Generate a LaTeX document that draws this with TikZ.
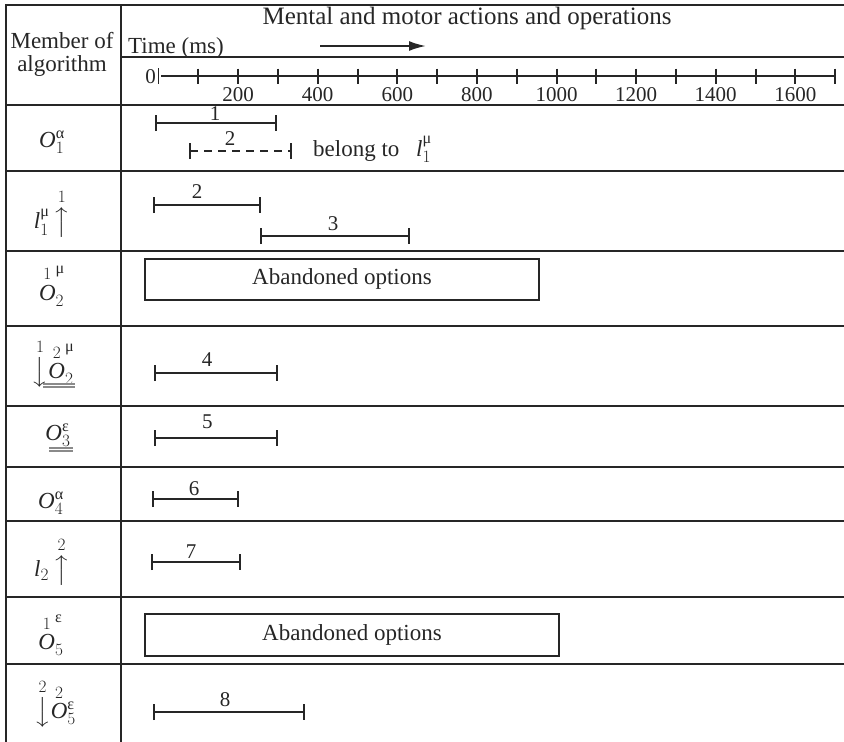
\documentclass[tikz,border=0pt]{standalone}
\usepackage{amsmath}
\usepackage{fontspec}
\setmainfont{Liberation Serif}
\usetikzlibrary{arrows.meta}
\definecolor{ink}{HTML}{262626}
\definecolor{rulegray}{HTML}{8A8A8A}
% italic letter and upright Greek index for the member names
\newcommand{\mO}{\mathit{O}}
\newcommand{\ml}{\mathit{l}}
\newcommand{\gr}[1]{\text{#1}}
\begin{document}
\begin{tikzpicture}[x=1pt,y=-1pt,
  txt/.style={font=\fontsize{23}{27}\selectfont, inner sep=0pt, text=ink},
  num/.style={font=\fontsize{21}{25}\selectfont, inner sep=0pt, text=ink},
  grid/.style={draw=ink, line width=2pt},
  tick/.style={draw=ink, line width=1.8pt},
  span/.style={draw=ink, line width=2pt,
    {Bar[width=16pt,line width=2pt]}-{Bar[width=16pt,line width=2pt]}},
  dspan/.style={span, dash pattern=on 8pt off 6pt},
  optbox/.style={txt, draw=ink, line width=2pt, minimum height=41pt},
  dbl/.style={draw=rulegray, line width=1.2pt}]
\useasboundingbox (0,0) rectangle (844,742);

% table frame and row rules
\draw[grid] (6,5) -- (844,5);
\draw[grid, line width=2.4pt] (6,4) -- (6,742);
\draw[grid] (121,4) -- (121,742);
\draw[grid] (121,57) -- (844,57);
\foreach \y in {105,171,251,326,406,467,521,597,664}
  \draw[grid] (6,\y) -- (844,\y);

% header texts
\node[txt, anchor=base] (hmember) at (62,48) {Member of};
\node[txt, anchor=base] (halgo) at (62,71) {algorithm};
\node[txt, font=\fontsize{25}{29}\selectfont, anchor=base] (htitle) at (467,24) {Mental and motor actions and operations};
\node[txt, anchor=base west] (htime) at (128,53.5) {Time (ms)};
\coordinate (arrs) at (320,46);
\coordinate (arre) at (426,46);
\draw[draw=ink, line width=2pt, -{Latex[length=17pt,width=10pt]}] (arrs) -- (arre);

% time axis
\coordinate (ax0) at (161,76);
\coordinate (ax1) at (835,76);
\draw[tick, line width=2pt] (ax0) -- (ax1);
\draw[tick] (158.5,68) -- (158.5,84);
\foreach \k in {1,...,17}
  \draw[tick] ({round(158.5+39.8*\k)},68.5) -- ++(0,15);
\node[num, anchor=base] (zero) at (150.5,83) {0};
\foreach \v/\k in {200/2,400/4,600/6,800/8,1000/10,1200/12,1400/14,1600/16}
  \node[num, anchor=base] (lab\v) at ({158.5+39.8*\k},101.5) {\v};

% members of the algorithm
\node[txt] (m1) at (52,142) {$\mO_1^{\gr{α}}$};
\node[txt] (m2) at (52,213) {$\ml_1^{\gr{μ}}\,\overset{1}{\big\uparrow}$};
\node[txt] (m3) at (52,286) {${\overset{1}{\mO}}_2^{\gr{μ}}$};
\node[txt] (m4) at (53,363) {$\overset{1}{\big\downarrow}{\overset{2}{\mO}}_2^{\gr{μ}}$};
\node[txt] (m5) at (58,435) {$\mO_3^{\gr{ε}}$};
\node[txt] (m6) at (51,503) {$\mO_4^{\gr{α}}$};
\node[txt] (m7) at (52,561) {$\ml_2\,\overset{2}{\big\uparrow}$};
\node[txt] (m8) at (51,635) {${\overset{1}{\mO}}_5^{\gr{ε}}$};
\node[txt] (m9) at (55,703) {$\overset{2}{\big\downarrow}\overset{2}{\mO}{}_5^{\gr{ε}}$};
% double underlines
\draw[dbl] (43,384) -- (75,384);
\draw[dbl] (43,387) -- (75,387);
\draw[dbl] (49,448) -- (73,448);
\draw[dbl] (49,451) -- (73,451);

% row O1 alpha
\coordinate (b1s) at (155,123);
\coordinate (b1e) at (277,123);
\draw[span] (b1s) -- (b1e);
\node[num, anchor=base] (n1) at (215,120) {1};
\coordinate (b2s) at (188.5,151);
\coordinate (b2e) at (292,151);
\draw[dspan] (b2s) -- (b2e);
\node[num, anchor=base] (n2a) at (230,145) {2};
\node[txt, anchor=base west] (belong) at (313,156) {belong to};
\node[txt, anchor=base west] (lmu) at (416,156) {$\ml_1^{\gr{μ}}$};

% row l1
\coordinate (b3s) at (153,205);
\coordinate (b3e) at (261,205);
\draw[span] (b3s) -- (b3e);
\node[num, anchor=base] (n2b) at (197,198) {2};
\coordinate (b4s) at (259.5,236);
\coordinate (b4e) at (409.5,236);
\draw[span] (b4s) -- (b4e);
\node[num, anchor=base] (n3) at (333,230) {3};

% row O2 (abandoned)
\node[optbox, minimum width=394pt] (ab1) at (342,279) {Abandoned options};

% row O2 double underlined
\coordinate (b5s) at (153.5,373);
\coordinate (b5e) at (277.5,373);
\draw[span] (b5s) -- (b5e);
\node[num, anchor=base] (n4) at (207,366) {4};

% row O3
\coordinate (b6s) at (154,438);
\coordinate (b6e) at (277.7,438);
\draw[span] (b6s) -- (b6e);
\node[num, anchor=base] (n5) at (207.3,428) {5};

% row O4
\coordinate (b7s) at (152.3,499);
\coordinate (b7e) at (239.3,499);
\draw[span] (b7s) -- (b7e);
\node[num, anchor=base] (n6) at (194,495) {6};

% row l2
\coordinate (b8s) at (151,562);
\coordinate (b8e) at (240.7,562);
\draw[span] (b8s) -- (b8e);
\node[num, anchor=base] (n7) at (191,558) {7};

% row O5 (abandoned)
\node[optbox, minimum width=414pt, minimum height=42pt] (ab2) at (352,635) {Abandoned options};

% row O5 arrow down
\coordinate (b9s) at (152.7,712);
\coordinate (b9e) at (305,712);
\draw[span] (b9s) -- (b9e);
\node[num, anchor=base] (n8) at (225,706) {8};
\end{tikzpicture}
\end{document}
